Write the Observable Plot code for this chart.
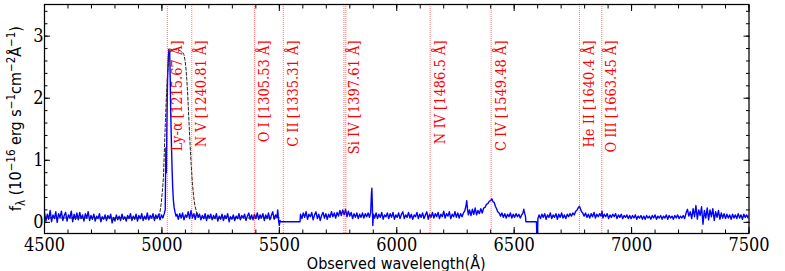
<!DOCTYPE html>
<html><head><meta charset="utf-8">
<script src="https://cdn.jsdelivr.net/npm/d3@7"></script>
<script src="https://cdn.jsdelivr.net/npm/@observablehq/plot@0.6"></script>
<style>
body{margin:0;background:#fff}
#chart svg{display:block}
</style></head><body><div id="chart"></div>
<script>
// ---- Data ----
// Observed spectrum (wavelength Å, flux 1e-16 erg/s/cm2/Å), in pieces
const specBlue = [[4500,0.16],[4506,0.02],[4512,0.13],[4518,0.05],[4524,0.19],[4530,0.01],[4536,0.12],[4542,0.06],[4548,0.17],[4554,0.00],[4560,0.14],[4566,0.08],[4572,0.18],[4578,0.03],[4584,0.11],[4590,0.16],[4596,0.02],[4602,0.12],[4608,0.07],[4614,0.18],[4620,0.01],[4626,0.13],[4632,0.05],[4638,0.15],[4644,0.04],[4650,0.16],[4656,0.06],[4662,0.12],[4668,0.02],[4674,0.14],[4680,0.07],[4686,0.17],[4692,0.03],[4698,0.11],
[4704,0.05],[4710,0.13],[4716,0.02],[4722,0.10],[4728,0.06],[4734,0.14],[4740,0.01],[4746,0.09],[4752,0.05],[4758,0.12],[4764,0.03],[4770,0.11],[4776,0.06],[4782,0.13],[4788,-0.01],[4794,0.08],[4800,0.02],[4806,0.12],[4812,0.04],[4818,0.10],[4824,0.03],[4830,0.13],[4836,0.05],[4842,0.09],[4848,0.02],[4854,0.11],[4860,0.06],[4866,0.14],[4872,0.03],[4878,0.10],[4884,0.05],[4890,0.13],[4896,0.02],[4902,0.11],[4908,0.06],[4914,0.14],[4920,0.03],[4926,0.10],[4932,0.05],[4938,0.15],[4944,0.04],[4950,0.11],[4956,0.07],[4962,0.14],[4968,0.03],[4974,0.12],[4980,0.06],[4986,0.13],[4992,0.04],[4998,0.12],[5004,0.07],[5010,0.14]];
const specLya = [[5014,0.20],[5016,0.90],[5017,1.20],[5019,0.80],[5021,1.50],[5024,2.30],[5027,2.65],[5030,2.79],[5033,2.75],[5035,2.40],[5037,1.90],[5040,1.35],[5043,0.90],[5046,0.55],[5049,0.35],[5052,0.24],[5056,0.16],[5060,0.10]];
const specMid = [[5064,0.13],[5070,0.05],[5076,0.14],[5082,0.07],[5088,0.15],[5094,0.04],[5100,0.12],[5106,0.08],[5112,0.17],[5118,0.06],[5124,0.19],[5130,0.07],[5136,0.14],[5142,0.05],[5148,0.15],[5154,0.08],[5160,0.13],[5166,0.04],[5172,0.11],[5178,0.06],[5184,0.14],[5190,0.03],[5196,0.12],[5202,0.07],[5208,0.13],[5214,0.04],[5220,0.11],[5226,0.06],[5232,0.14],[5238,0.02],[5244,0.10],[5250,0.05],[5256,0.13],[5262,0.03],[5268,0.11],[5274,0.06],[5280,0.14],[5286,0.01],[5292,0.09],[5298,0.05],[5304,0.12],[5310,0.03],[5316,0.10],[5322,0.06],[5328,0.14],[5334,0.04],[5340,0.11],[5346,0.07],[5352,0.13],[5358,0.03],[5364,0.10],[5370,0.15],[5376,0.05],[5382,0.12],[5388,0.04],[5394,0.13],[5400,0.06],[5406,0.15],[5412,0.05],[5418,0.12],[5424,0.07],[5430,0.14],[5436,0.03],[5442,0.12],[5448,0.06],[5454,0.15],[5460,0.04],[5466,0.11],[5472,0.17],[5478,0.05],[5484,0.12],[5490,0.08],[5493,0.20],[5497,0.02],[5500,-0.05],[5503,0.03],[5505,0.01],[5588,0.01]];
const specRed1 = [[5590,0.13],[5596,0.06],[5602,0.15],[5608,0.08],[5614,0.17],[5620,0.05],[5626,0.13],[5632,0.09],[5638,0.16],[5644,0.04],[5650,0.12],[5656,0.17],[5662,0.06],[5668,0.13],[5674,0.03],[5680,0.11],[5686,0.16],[5692,0.07],[5698,0.14],[5704,0.05],[5710,0.13],[5716,0.08],[5722,0.17],[5728,0.09],[5734,0.15],[5740,0.07],[5746,0.16],[5752,0.10],[5758,0.19],[5764,0.11],[5770,0.20],[5776,0.12],[5782,0.21],[5788,0.09],[5794,0.18],[5800,0.10],[5806,0.16],[5812,0.06],[5818,0.14],[5824,0.08],[5830,0.15],[5836,0.06],[5842,0.13],[5848,0.08],[5854,0.15],[5860,0.07],[5866,0.14],[5872,0.09],[5878,0.15],[5884,0.08],[5889,0.16],[5892,0.45],[5894,0.55],[5896,0.30],[5898,-0.05],[5901,0.13],[5906,0.07],
[5912,0.15],[5918,0.06],[5924,0.13],[5930,0.08],[5936,0.16],[5942,0.05],[5948,0.12],[5954,0.09],[5960,0.15],[5966,0.06],[5972,0.14],[5978,0.08],[5984,0.16],[5990,0.05],[5996,0.12],[6002,0.08],[6008,0.15],[6014,0.06],[6020,0.13],[6026,0.17],[6032,0.06],[6038,0.12],[6044,0.08],[6050,0.16],[6056,0.07],[6062,0.13],[6068,0.05],[6074,0.12],[6080,0.09],[6086,0.16],[6092,0.06],[6098,0.13],[6104,0.08],[6110,0.15],[6116,0.06],[6122,0.12],[6128,0.17],[6134,0.05],[6140,0.13],[6146,0.08],[6152,0.16],[6158,0.07],[6164,0.14],[6170,0.09],[6176,0.16],[6182,0.06],[6188,0.13],[6194,0.09],[6200,0.18],[6206,0.07],[6212,0.14],[6218,0.10],[6224,0.17],[6230,0.06],[6236,0.13],[6242,0.09],[6248,0.17],[6254,0.08],[6260,0.15],[6266,0.07],[6272,0.14],[6278,0.09],[6284,0.15],[6290,0.19],[6295,0.27],[6298,0.35],[6301,0.22],[6305,0.12],[6310,0.20],[6316,0.11],[6322,0.21],[6328,0.13],[6334,0.23],[6340,0.12],[6346,0.19],[6352,0.14],[6358,0.22],[6364,0.15],[6370,0.23],[6376,0.24],[6382,0.29],[6388,0.30],[6394,0.34],[6400,0.35],[6405,0.38],[6410,0.33],[6415,0.32],[6420,0.26],[6425,0.22],[6430,0.17],[6436,0.15],[6442,0.10],[6448,0.15],[6454,0.08],[6460,0.14],[6466,0.07],[6472,0.13],[6478,0.09],[6484,0.15],[6490,0.07],[6496,0.13],[6502,0.08],[6508,0.14],[6514,0.09],[6520,0.13],[6526,0.07],[6532,0.12],[6537,0.15],[6541,0.21],[6545,0.14],[6548,0.10]];
const specRed2 = [[6550,0.01],[6595,0.01],[6597,-0.30],[6599,-0.30],[6601,0.06],[6606,0.12],[6612,0.06],[6618,0.13],[6624,0.08],[6630,0.14],[6636,0.05],[6642,0.12],[6648,0.08],[6654,0.15],[6660,0.06],[6666,0.12],[6672,0.08],[6678,0.14],[6684,0.05],[6690,0.13],[6696,0.08],[6702,0.15],[6708,0.07],[6714,0.12],[6720,0.06],[6726,0.13],[6732,0.09],[6738,0.14],[6744,0.10],[6750,0.15],[6756,0.12],[6762,0.18],[6768,0.20],[6774,0.24],[6778,0.26],[6782,0.22],[6787,0.17],[6792,0.15],[6798,0.10],[6804,0.15],[6810,0.08],[6816,0.13],[6822,0.07],[6828,0.14],[6834,0.09],[6840,0.16],[6846,0.07],[6852,0.13],[6858,0.09],[6864,0.14],[6870,0.10],[6874,0.18],[6878,0.07],[6884,0.13],[6890,0.09],[6896,0.14],[6902,0.06],[6908,0.12],[6914,0.08],[6920,0.13],[6926,0.09],[6932,0.14],[6938,0.06],[6944,0.12],[6950,0.08],[6956,0.13],[6962,0.06],[6968,0.11],[6974,0.08],[6980,0.12],[6986,0.06],[6992,0.11],[6998,0.06],[7004,0.11],[7010,0.07],[7016,0.12],[7022,0.05],[7028,0.10],[7034,0.07],[7040,0.11],[7046,0.05],[7052,0.10],[7058,0.05],[7064,0.11],[7070,0.07],[7076,0.10],[7082,0.05],[7088,0.11],[7094,0.07],[7100,0.12],[7106,0.05],[7112,0.10],[7118,0.07],[7124,0.11],[7130,0.05],[7136,0.10],[7142,0.07],[7148,0.12],[7154,0.05],[7160,0.11],[7166,0.07],[7172,0.10],[7178,0.05],[7184,0.11],[7190,0.07],[7196,0.12],[7202,0.06],[7208,0.10],[7214,0.07],[7220,0.11],[7226,0.06],[7232,0.15],[7238,0.21],[7244,0.10],[7250,0.17],[7256,0.06],[7262,0.22],[7268,0.09],[7274,0.27],[7280,0.05],[7286,0.20],[7292,0.11],[7298,0.25],[7304,-0.03],[7310,0.19],[7316,0.07],[7322,0.23],[7328,0.04],[7334,0.20],[7340,0.09],[7346,0.22],[7352,0.03],[7358,0.17],[7364,0.08],[7370,0.19],[7376,0.05],[7382,0.15],[7388,0.07],[7394,0.14],[7400,0.06],[7406,0.13],[7412,0.07],[7418,0.12],[7424,0.05],[7430,0.13],[7436,0.07],[7442,0.12],[7448,0.06],[7454,0.14],[7460,0.07],[7466,0.12],[7472,0.05],[7478,0.13],[7484,0.08],[7490,0.12],[7496,0.07],[7500,0.11]];

// Model (dashed black) profile
const modelProfile = [[4500,0.07],[4980,0.07],[4990,0.12],[4997,0.30],[5002,0.50],[5006,0.70],[5010,1.10],[5015,1.64],[5020,2.10],[5025,2.45],[5030,2.66],[5035,2.74],[5040,2.78],[5050,2.79],[5060,2.78],[5070,2.78],[5080,2.76],[5088,2.74],[5094,2.70],[5098,2.62],[5102,2.50],[5106,2.30],[5110,2.05],[5115,1.64],[5120,1.25],[5125,0.90],[5130,0.62],[5135,0.42],[5140,0.28],[5147,0.17],[5155,0.11],[5165,0.08],[5180,0.07],[5500,0.07]];

// Emission line identifications
const lineNames = ["Ly-α","N V","O I","C II","Si IV","N IV","C IV","He II","O III"];
const lineRest  = ["1215.67","1240.81","1305.53","1335.31","1397.61","1486.5","1549.48","1640.4","1663.45"];
const lineObs   = [5023, 5127, 5394, 5517, 5775, 6142, 6402, 6778, 6873];
const extraRules = [5783];
const labelTop = 2.93;

// Ticks
const xMajor = [4500, 5000, 5500, 6000, 6500, 7000, 7500];
const xMinor = d3.range(4500, 7501, 100);
const yMajor = [0, 1, 2, 3];
const yMinor = d3.range(0, 3.41, 0.2);

// ---- Build ----
const spectrum = [...specBlue, ...specLya, ...specMid, ...specRed1, ...specRed2].map(([w, f]) => ({w, f}));
const model = modelProfile.map(([w, f]) => ({w, f}));
const lines = lineNames.map((n, i) => ({obs: lineObs[i], y: labelTop, label: `${n} [${lineRest[i]} Å]`}));
const rules = [...lineObs, ...extraRules];

const SERIF = "'DejaVu Serif Condensed', 'DejaVu Serif', serif";
const SANS = "'DejaVu Sans Condensed', 'DejaVu Sans', sans-serif";
const blank = () => "";

const plot = Plot.plot({
  width: 785, height: 271,
  marginLeft: 44, marginRight: 36.5, marginTop: 4, marginBottom: 38,
  x: {domain: [4500, 7500]},
  y: {domain: [-0.18, 3.51]},
  style: {background: "white", color: "black", overflow: "visible"},
  marks: [
    Plot.line(spectrum, {x: "w", y: "f", stroke: "#0000ff", strokeWidth: 1.4, clip: true}),
    Plot.line(model, {x: "w", y: "f", stroke: "#222", strokeWidth: 1, strokeDasharray: "3,2", clip: true}),
    Plot.ruleX(rules, {x: d => d, stroke: "#ff0000", strokeWidth: 1, strokeDasharray: "1,1", strokeOpacity: 0.55}),
    Plot.text(lines, {x: "obs", y: "y", text: "label", rotate: -90, textAnchor: "end", lineAnchor: "middle", dx: 10,
      fill: "#ff0000", fontSize: 14.5, fontFamily: SERIF}),
    Plot.frame({stroke: "black", strokeWidth: 1.25}),
    Plot.axisX(xMajor, {anchor: "bottom", tickSize: -6, tickPadding: 11, fontSize: 18, fontFamily: SERIF, label: null, tickFormat: d => String(d)}),
    Plot.axisX(xMinor, {anchor: "bottom", tickSize: -3.5, tickFormat: blank, label: null}),
    Plot.axisX(xMajor, {anchor: "top", tickSize: -6, tickFormat: blank, label: null}),
    Plot.axisX(xMinor, {anchor: "top", tickSize: -3.5, tickFormat: blank, label: null}),
    Plot.axisY(yMajor, {anchor: "left", tickSize: -6, tickPadding: 7, fontSize: 18, fontFamily: SERIF, label: null, tickFormat: d => String(d)}),
    Plot.axisY(yMinor, {anchor: "left", tickSize: -3.5, tickFormat: blank, label: null}),
    Plot.axisY(yMajor, {anchor: "right", tickSize: -6, tickFormat: blank, label: null}),
    Plot.axisY(yMinor, {anchor: "right", tickSize: -3.5, tickFormat: blank, label: null})
  ]
});

document.getElementById("chart").appendChild(plot);

// Axis titles (real text, with sub/superscripts)
const svg = d3.select(plot);
const xr = plot.scale("x").range, yr = plot.scale("y").range;
const cx = (xr[0] + xr[1]) / 2, cy = (yr[0] + yr[1]) / 2;

svg.append("text")
  .attr("x", cx).attr("y", 268.5)
  .attr("text-anchor", "middle")
  .attr("font-family", SANS).attr("font-size", 16).attr("fill", "black")
  .text("Observed wavelength(Å)");

const yl = svg.append("text")
  .attr("transform", `translate(21,${cy}) rotate(-90)`)
  .attr("text-anchor", "middle")
  .attr("font-family", SANS).attr("font-size", 16).attr("fill", "black");
const parts = [
  ["f", 0], ["λ", 1], [" (10", 0], ["−16", 2], [" erg s", 0], ["−1", 2], ["cm", 0], ["−2", 2], ["Å", 0], ["−1", 2], [")", 0]
];
let cur = 0;
for (const [t, kind] of parts) {
  const target = kind === 1 ? 3.5 : kind === 2 ? -6.5 : 0;
  const ts = yl.append("tspan").attr("dy", target - cur).text(t);
  if (kind) ts.attr("font-size", 11.5);
  cur = target;
}
</script>
</body></html>
